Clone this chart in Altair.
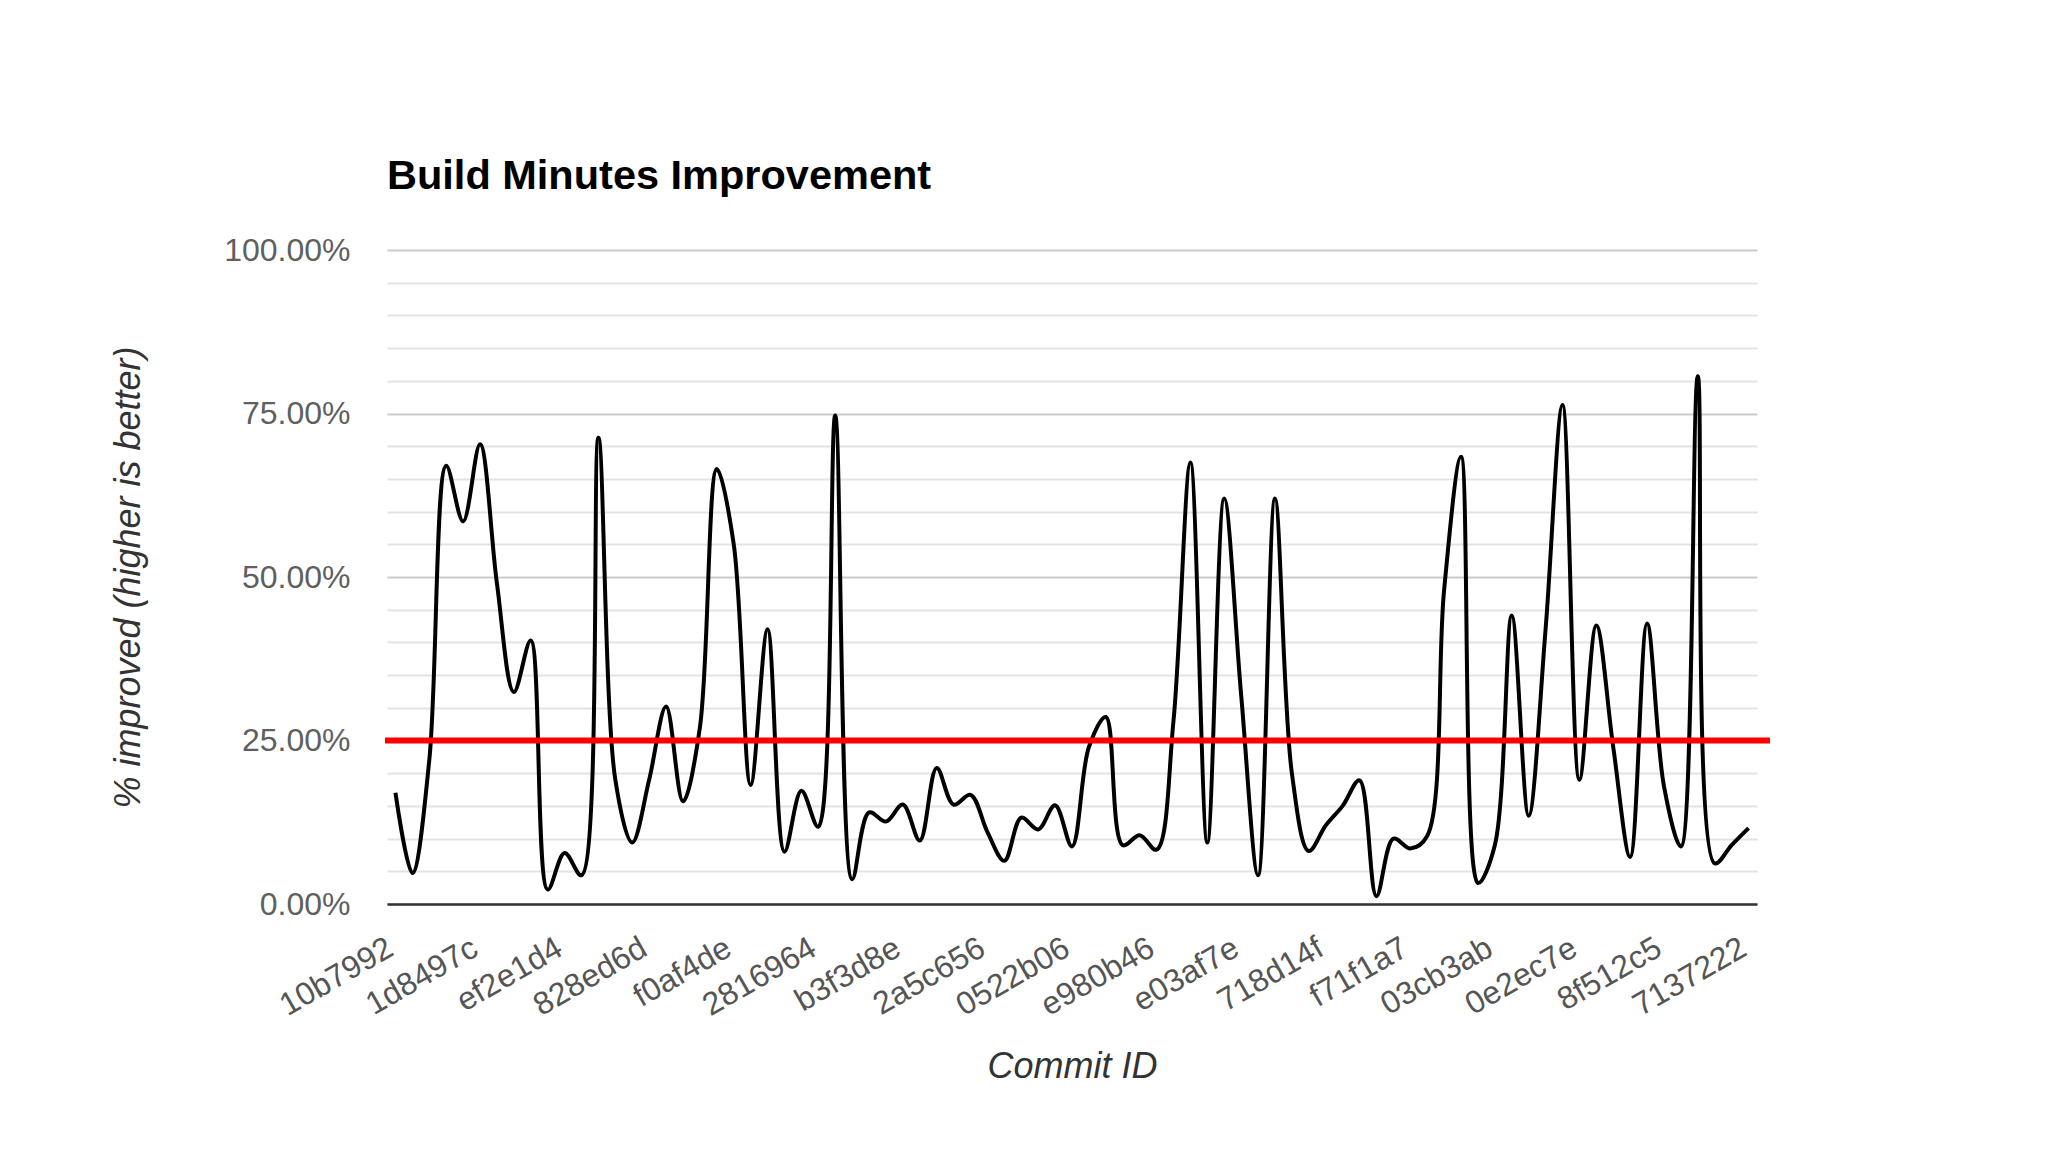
import altair as alt
import pandas as pd

# ---- data ----
commit_labels = ["10b7992", "1d8497c", "ef2e1d4", "828ed6d", "f0af4de", "2816964",
                 "b3f3d8e", "2a5c656", "0522b06", "e980b46", "e03af7e", "718d14f",
                 "f71f1a7", "03cb3ab", "0e2ec7e", "8f512c5", "7137222"]
label_positions = [0, 5, 10, 15, 20, 25, 30, 35, 40, 45, 50, 55, 60, 65, 70, 75, 80]

improvement_pct = [
    17.0, 4.7, 22.0, 67.0, 58.5, 70.3, 49.0, 32.4, 40.3, 2.2,
    7.8, 4.4, 71.3, 19.0, 9.4, 19.0, 30.2, 15.7, 27.0, 66.5,
    55.0, 18.2, 42.0, 8.0, 17.3, 11.8, 74.7, 3.8, 14.0, 12.6,
    15.2, 9.7, 20.8, 15.2, 16.7, 11.0, 6.6, 13.2, 11.4, 15.1,
    8.8, 24.0, 28.6, 9.0, 10.5, 8.3, 28.0, 67.5, 9.4, 62.0,
    32.0, 4.4, 62.0, 20.0, 8.1, 12.0, 15.0, 18.9, 1.2, 10.0,
    8.5, 10.4, 48.0, 68.4, 3.2, 9.0, 44.1, 13.5, 42.0, 76.3,
    19.0, 42.6, 24.0, 7.2, 42.9, 18.0, 8.8, 80.7, 6.2, 9.0,
    11.6,
]
commit_index = list(range(len(improvement_pct)))
threshold_pct = [25]
y_grid_values = [0, 5, 10, 15, 20, 25, 30, 35, 40, 45, 50, 55, 60, 65, 70, 75, 80, 85, 90, 95, 100]

FONT = "Liberation Sans"
W, H = 1370, 654

df = pd.DataFrame({"idx": commit_index, "pct": improvement_pct})
thr = pd.DataFrame({"pct": threshold_pct})

label_js = "[" + ",".join("'" + c + "'" for c in commit_labels) + "]"

x_enc = alt.X(
    "idx:Q",
    scale=alt.Scale(domain=[-0.5, len(improvement_pct) - 0.5], nice=False, zero=False),
    axis=alt.Axis(
        values=label_positions, tickCount=40,
        labelExpr=label_js + "[round(datum.value/5)]",
        labelAngle=-30, labelAlign="right", labelBaseline="top",
        labelPadding=28, labelOffset=-13, ticks=False, tickSize=0, grid=False,
        labelOverlap=False, labelFlush=False, labelBound=False,
        labelFont=FONT, labelFontSize=32, labelColor="#555555",
        domainColor="#333333", domainWidth=2.5,
        title="Commit ID", titleFont=FONT, titleFontSize=36,
        titleFontStyle="italic", titleFontWeight="normal", titleColor="#333333",
        titleX=W / 2, titleY=162, titleBaseline="middle", titleAlign="center",
        zindex=1,
    ),
)

y_axis = alt.Axis(
    values=y_grid_values, tickCount=30,
    labelExpr="datum.value % 25 === 0 ? format(datum.value/100, '.2%') : ''",
    labelOverlap=False, labelBound=False, labelFlush=False,
    ticks=False, tickSize=0, domain=False, labelPadding=37,
    labelFont=FONT, labelFontSize=32, labelColor="#5f5f5f",
    grid=True,
    gridColor={"condition": {"test": "datum.value % 25 === 0", "value": "#cccccc"}, "value": "#e3e3e3"},
    gridWidth=2,
    title="% improved (higher is better)", titleFont=FONT, titleFontSize=36,
    titleFontStyle="italic", titleFontWeight="normal", titleColor="#333333",
    titleX=-259, titleY=H / 2, titleAngle=-90, titleBaseline="middle", titleAlign="center",
)

line = alt.Chart(df).mark_line(color="black", strokeWidth=4, interpolate="catmull-rom").encode(
    x=x_enc,
    y=alt.Y("pct:Q", scale=alt.Scale(domain=[0, 100], nice=False), axis=y_axis,
            title="% improved (higher is better)"),
)

rule = alt.Chart(thr).mark_rule(color="#ff0000", strokeWidth=6).encode(
    y=alt.Y("pct:Q", title="% improved (higher is better)"),
    x=alt.value(-2),
    x2=alt.value(W + 13),
)

chart = alt.layer(line, rule).properties(
    width=W, height=H,
    title=alt.TitleParams("Build Minutes Improvement", anchor="start", frame="group",
                          font=FONT, fontSize=41.5, fontWeight="bold", color="#000000",
                          offset=37),
    autosize=alt.AutoSizeParams(type="none"),
    padding={"left": 379, "top": 242, "right": 263, "bottom": 220},
).configure_view(stroke=None)

chart.save("out.html", embed_options={"renderer": "svg", "actions": False})
